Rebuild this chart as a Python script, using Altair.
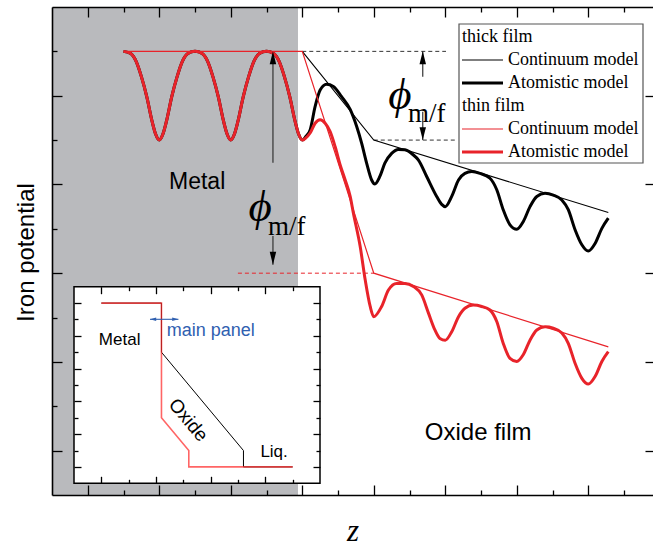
import altair as alt
import pandas as pd

# ---------------- data ----------------
# atomistic potential inside the metal (identical for both films)
metal_x = [2.0, 2.2, 2.35, 2.5, 2.65, 2.8, 2.9, 3.0, 3.1, 3.2, 3.35, 3.5, 3.65, 3.8, 4.0,
           4.2, 4.35, 4.5, 4.65, 4.8, 4.9, 5.0, 5.1, 5.2, 5.35, 5.5, 5.65, 5.8, 6.0,
           6.2, 6.35, 6.5, 6.65, 6.8, 6.9, 7.0]
metal_y = [10.0, 9.95, 9.78, 9.43, 8.98, 8.42, 8.13, 8.0, 8.13, 8.42, 8.98, 9.43, 9.78, 9.95, 10.0,
           9.95, 9.78, 9.43, 8.98, 8.42, 8.13, 8.0, 8.13, 8.42, 8.98, 9.43, 9.78, 9.95, 10.0,
           9.95, 9.78, 9.43, 8.98, 8.42, 8.13, 8.0]

# atomistic potential in the oxide, thick film
thick_ox_x = [7.1, 7.22, 7.36, 7.5, 7.68, 7.87, 8.1, 8.34, 8.52, 8.66,
              8.8, 8.94, 9.03, 9.17, 9.31, 9.5, 9.69, 9.87, 10.1, 10.25,
              10.48, 10.76, 10.9, 11.0, 11.18, 11.37, 11.55, 11.74, 11.97, 12.25,
              12.44, 12.62, 12.81, 13.0, 13.18, 13.37, 13.56, 13.79, 14.02, 14.26,
              14.44, 14.63, 14.82, 15.0, 15.19, 15.38, 15.56]
thick_ox_y = [8.08, 8.23, 8.76, 9.13, 9.26, 9.21, 8.98, 8.69, 8.31, 7.93,
              7.48, 7.1, 7.01, 7.18, 7.48, 7.7, 7.79, 7.78, 7.67, 7.55,
              7.18, 6.73, 6.55, 6.5, 6.73, 7.1, 7.25, 7.29, 7.25, 7.14,
              6.88, 6.43, 6.09, 5.99, 6.16, 6.5, 6.73, 6.8, 6.76, 6.65,
              6.43, 5.98, 5.64, 5.5, 5.67, 6.01, 6.24]

# atomistic potential in the oxide, thin film
thin_ox_x = [7.1, 7.22, 7.36, 7.5, 7.64, 7.78, 7.92, 8.06, 8.2, 8.34,
             8.43, 8.62, 8.76, 8.9, 9.0, 9.22, 9.41, 9.64, 9.87, 10.11,
             10.34, 10.53, 10.71, 10.85, 11.0, 11.18, 11.37, 11.55, 11.78, 12.02,
             12.25, 12.44, 12.62, 12.81, 13.0, 13.18, 13.37, 13.56, 13.79, 14.02,
             14.26, 14.44, 14.63, 14.82, 15.0, 15.19, 15.38, 15.56]
thin_ox_y = [8.05, 8.16, 8.38, 8.46, 8.38, 8.19, 7.85, 7.44, 7.1, 6.73,
             6.35, 5.6, 4.85, 4.25, 4.02, 4.25, 4.62, 4.77, 4.77, 4.7,
             4.51, 4.1, 3.72, 3.53, 3.49, 3.68, 4.02, 4.21, 4.28, 4.25,
             4.17, 3.91, 3.42, 3.08, 3.01, 3.16, 3.49, 3.72, 3.79, 3.76,
             3.65, 3.42, 2.97, 2.63, 2.5, 2.67, 3.01, 3.23]

# continuum models (the thick-film one is hidden under the thin-film one in the metal)
thick_cont_x = [7.0, 9.0, 15.56]
thick_cont_y = [10.0, 8.0, 6.37]
thin_cont_x = [2.0, 7.0, 9.0, 15.56]
thin_cont_y = [10.0, 10.0, 5.0, 3.34]

# metal (grey) region
metal_region_x = [0.0, 6.88]
metal_region_y = [0.0, 11.0]

# dashed guide lines
dash_x = [7.0, 9.0, 5.2]
dash_x2 = [11.02, 11.33, 9.0]
dash_y = [10.0, 8.0, 5.0]
dash_col = ["#333333", "#333333", "#e8232a"]

# phi_m/f arrows
arrow_x = [6.18, 6.18, 10.37, 10.37]
arrow_from = [7.49, 5.84, 9.43, 8.64]
arrow_to = [10.0, 5.19, 10.0, 8.0]
arrow_dir = ["up", "down", "up", "down"]

# labels in the main panel
main_labels = ["Metal", "Oxide film"]
main_label_x = [4.06, 11.92]
main_label_y = [7.06, 1.40]
main_label_size = [23, 24]

phi_x = [5.82, 9.73]
phi_y = [6.18, 8.70]
sub_x = [6.04, 9.96]
sub_y = [5.86, 8.41]

# legend
legend_labels = ["thick film", "Continuum model", "Atomistic model",
                 "thin film", "Continuum model", "Atomistic model"]
legend_is_header = [True, False, False, True, False, False]
legend_color = ["black", "black", "black", "#e8232a", "#e8232a", "#e8232a"]
legend_width = [0, 1.2, 3.0, 0, 1.2, 3.0]

# inset
inset_thick_x = [1.0, 3.2, 3.2, 6.2, 6.2, 8.0]
inset_thick_y = [11.0, 11.0, 8.0, 2.0, 1.0, 1.0]
inset_thin_x = [1.0, 3.2, 3.2, 3.2, 4.2, 4.2, 8.0]
inset_thin_y = [11.0, 11.0, 8.0, 4.0, 2.0, 1.0, 1.0]
inset_box_x = [0.0, 9.0]
inset_box_y = [0.0, 12.0]
inset_labels = ["Metal", "main panel", "Oxide", "Liq."]
inset_label_x = [1.67, 3.39, 4.18, 7.32]
inset_label_y = [8.77, 9.30, 3.86, 1.88]
inset_label_angle = [0, 0, 50, 0]
inset_label_align = ["center", "left", "center", "center"]
inset_label_color = ["black", "#3060b0", "black", "black"]
inset_label_size = [17, 18, 19, 17]
inset_arrow_x = [2.78, 3.82]
inset_arrow_y = [10.01, 10.01]

# ---------------- layout ----------------
W, H = 601, 488
RED = "#e8232a"
X_MAX = 16.81
xs = alt.Scale(domain=[0, X_MAX], nice=False, zero=False)
ys = alt.Scale(domain=[0, 11], nice=False, zero=False)
xs_in = alt.Scale(domain=[0, 9], range=[22, 268], nice=False, zero=False)
ys_in = alt.Scale(domain=[0, 12], range=[476.3, 279.7], nice=False, zero=False)

MAJ_MAIN = {"condition": {"test": "datum.value % 2 == 1", "value": 10}, "value": 5}
MAJ_IN = {"condition": {"test": "datum.value % 2 == 1", "value": 7}, "value": 4}


def tick_axis(orient, offset, values, size):
    return alt.Axis(orient=orient, offset=offset, values=values, labels=False,
                    domain=False, grid=False, ticks=True, tickSize=size,
                    tickColor="black", tickWidth=1.3, title=None, zindex=1)


def line_axis(orient, **kw):
    return alt.Axis(orient=orient, labels=False, ticks=False, grid=False,
                    domain=True, domainColor="black", domainWidth=1.6,
                    zindex=1, **kw)


UP = "M0,0L-0.4,1.6L0.4,1.6Z"
DOWN = "M0,0L-0.4,-1.6L0.4,-1.6Z"
LEFT = "M0,0L1.6,-0.45L1.6,0.45Z"
RIGHT = "M0,0L-1.6,-0.45L-1.6,0.45Z"

layers = []

# grey metal region, carries bottom/left axis lines and titles
grey_df = pd.DataFrame({"x": [metal_region_x[0]], "x2": [metal_region_x[1]],
                        "y": [metal_region_y[0]], "y2": [metal_region_y[1]]})
layers.append(
    alt.Chart(grey_df).mark_rect(color="#b9babd").encode(
        x=alt.X("x:Q", scale=xs, axis=line_axis(
            "bottom", title="z", titleFont="Liberation Serif", titleFontStyle="italic",
            titleFontWeight="normal", titleFontSize=31, titleColor="black",
            titleY=45, titleBaseline="alphabetic")),
        x2="x2:Q",
        y=alt.Y("y:Q", scale=ys, axis=line_axis(
            "left", title="Iron potential", titleFont="Liberation Sans",
            titleFontWeight="normal", titleFontSize=24, titleColor="black",
            titleAngle=-90, titleX=-19, titleY=245, titleBaseline="alphabetic",
            titleAlign="center")),
        y2="y2:Q",
    )
)

# dashed guides (top axis line, left inward ticks)
dash_df = pd.DataFrame({"x": dash_x, "x2": dash_x2, "y": dash_y, "c": dash_col})
layers.append(
    alt.Chart(dash_df).mark_rule(strokeWidth=1, strokeDash=[4, 3]).encode(
        x=alt.X("x:Q", scale=xs, axis=line_axis("top", title=None)),
        x2="x2:Q",
        y=alt.Y("y:Q", scale=ys, axis=tick_axis("right", -W, list(range(1, 11)), MAJ_MAIN)),
        color=alt.Color("c:N", scale=None),
    )
)

# arrow shafts (bottom inward ticks, right inward ticks)
arr_df = pd.DataFrame({"x": arrow_x, "y": arrow_from, "y2": arrow_to})
layers.append(
    alt.Chart(arr_df).mark_rule(strokeWidth=1.2, color="#333333").encode(
        x=alt.X("x:Q", scale=xs, axis=tick_axis("top", -H, list(range(1, 17)), MAJ_MAIN)),
        y=alt.Y("y:Q", scale=ys, axis=tick_axis("left", -W, [1, 3, 5, 7, 9], 8)),
        y2="y2:Q",
    )
)


def xy_df(xv, yv):
    return pd.DataFrame({"x": xv, "y": yv, "i": list(range(len(xv)))})


def curve(df, color, width, interp, xaxis=None, sx=xs, sy=ys, opacity=1.0):
    return alt.Chart(df).mark_line(color=color, strokeWidth=width, interpolate=interp,
                                   opacity=opacity).encode(
        x=alt.X("x:Q", scale=sx, axis=xaxis),
        y=alt.Y("y:Q", scale=sy, axis=None),
        order="i:Q",
    )


layers.append(curve(xy_df(thick_cont_x, thick_cont_y), "black", 1.1, "linear",
                    xaxis=tick_axis("bottom", -H, list(range(1, 17)), MAJ_MAIN)))
layers.append(curve(xy_df(metal_x + thick_ox_x, metal_y + thick_ox_y), "black", 3, "monotone"))
layers.append(curve(xy_df(thin_cont_x, thin_cont_y), RED, 1.2, "linear"))
layers.append(curve(xy_df(metal_x + thin_ox_x, metal_y + thin_ox_y), RED, 3, "monotone"))

# arrow heads
head_df = pd.DataFrame({"x": arrow_x, "y": arrow_to,
                        "shape": [UP if d == "up" else DOWN for d in arrow_dir]})
layers.append(
    alt.Chart(head_df).mark_point(filled=True, color="black", size=260, opacity=1,
                                  strokeWidth=0).encode(
        x=alt.X("x:Q", scale=xs, axis=None),
        y=alt.Y("y:Q", scale=ys, axis=None),
        shape=alt.Shape("shape:N", scale=None),
    )
)

# main labels
lab_df = pd.DataFrame({"t": main_labels, "x": main_label_x, "y": main_label_y,
                       "s": main_label_size})
layers.append(
    alt.Chart(lab_df).mark_text(font="Liberation Sans", color="black", align="center",
                                baseline="middle").encode(
        x=alt.X("x:Q", scale=xs, axis=None), y=alt.Y("y:Q", scale=ys, axis=None),
        text="t:N", size=alt.Size("s:Q", scale=None),
    )
)
phi_df = pd.DataFrame({"x": phi_x, "y": phi_y, "t": ["\u03d5", "\u03d5"]})
layers.append(
    alt.Chart(phi_df).mark_text(font="Liberation Serif", fontStyle="italic", fontSize=45,
                                color="black", align="center",
                                baseline="alphabetic").encode(
        x=alt.X("x:Q", scale=xs, axis=None), y=alt.Y("y:Q", scale=ys, axis=None),
        text="t:N",
    )
)
sub_df = pd.DataFrame({"x": sub_x, "y": sub_y, "t": ["m/f", "m/f"]})
layers.append(
    alt.Chart(sub_df).mark_text(font="Liberation Serif", fontSize=27, color="black",
                                align="left", baseline="alphabetic").encode(
        x=alt.X("x:Q", scale=xs, axis=None), y=alt.Y("y:Q", scale=ys, axis=None),
        text="t:N",
    )
)

# legend (pixel layout inside the plot area)
LX0, LX1, LY0, LY1 = 407, 591, 17, 156
ROW0, ROWSTEP = 30, 23
layers.append(
    alt.Chart(pd.DataFrame({"x": [LX0], "x2": [LX1], "y": [LY0], "y2": [LY1]}))
    .mark_rect(fill="white", stroke="#555555", strokeWidth=1.2).encode(
        x=alt.X("x:Q", scale=None, axis=None), x2="x2:Q",
        y=alt.Y("y:Q", scale=None, axis=None), y2="y2:Q",
    )
)
leg_df = pd.DataFrame({
    "t": legend_labels,
    "y": [ROW0 + ROWSTEP * k for k in range(len(legend_labels))],
    "tx": [LX0 + 3 if h else LX0 + 49 for h in legend_is_header],
    "c": legend_color, "w": legend_width, "h": legend_is_header,
    "sx": [LX0 + 3] * len(legend_labels), "sx2": [LX0 + 44] * len(legend_labels),
})
layers.append(
    alt.Chart(leg_df).transform_filter("!datum.h").mark_rule().encode(
        x=alt.X("sx:Q", scale=None, axis=None), x2="sx2:Q",
        y=alt.Y("y:Q", scale=None, axis=None),
        color=alt.Color("c:N", scale=None),
        strokeWidth=alt.StrokeWidth("w:Q", scale=None),
    )
)
layers.append(
    alt.Chart(leg_df).mark_text(font="Liberation Serif", fontSize=18, color="black",
                                align="left", baseline="middle").encode(
        x=alt.X("tx:Q", scale=None, axis=None),
        y=alt.Y("y:Q", scale=None, axis=None),
        text="t:N",
    )
)

# ---------------- inset ----------------
layers.append(
    alt.Chart(pd.DataFrame({"x": [inset_box_x[0]], "x2": [inset_box_x[1]],
                            "y": [inset_box_y[0]], "y2": [inset_box_y[1]]}))
    .mark_rect(fill="white", stroke="black", strokeWidth=1.5).encode(
        x=alt.X("x:Q", scale=xs_in, axis=tick_axis("top", -476.3, list(range(1, 9)), MAJ_IN)),
        x2="x2:Q",
        y=alt.Y("y:Q", scale=ys_in, axis=tick_axis("right", -579, list(range(1, 12)), MAJ_IN)),
        y2="y2:Q",
    )
)
layers.append(
    alt.Chart(xy_df(inset_thick_x, inset_thick_y)).mark_line(
        color="black", strokeWidth=1.0).encode(
        x=alt.X("x:Q", scale=xs_in, axis=tick_axis("bottom", -208.3, list(range(1, 9)), MAJ_IN)),
        y=alt.Y("y:Q", scale=ys_in, axis=tick_axis("left", -268, list(range(1, 12)), MAJ_IN)),
        order="i:Q",
    )
)
layers.append(curve(xy_df(inset_thin_x, inset_thin_y), "#ff2a2a", 1.6, "linear",
                    sx=xs_in, sy=ys_in, opacity=0.72))
ilab_df = pd.DataFrame({"t": inset_labels, "x": inset_label_x, "y": inset_label_y,
                        "a": inset_label_angle, "al": inset_label_align,
                        "c": inset_label_color, "s": inset_label_size})
for al in ["center", "left"]:
    layers.append(
        alt.Chart(ilab_df).transform_filter(f"datum.al == '{al}'").mark_text(
            font="Liberation Sans", align=al, baseline="middle").encode(
            x=alt.X("x:Q", scale=xs_in, axis=None), y=alt.Y("y:Q", scale=ys_in, axis=None),
            text="t:N", angle=alt.Angle("a:Q", scale=None),
            color=alt.Color("c:N", scale=None), size=alt.Size("s:Q", scale=None),
        )
    )
iar_df = pd.DataFrame({"x": [inset_arrow_x[0]], "x2": [inset_arrow_x[1]],
                       "y": [inset_arrow_y[0]]})
layers.append(
    alt.Chart(iar_df).mark_rule(color="#3060b0", strokeWidth=1.1).encode(
        x=alt.X("x:Q", scale=xs_in, axis=None), x2="x2:Q",
        y=alt.Y("y:Q", scale=ys_in, axis=None),
    )
)
ihead_df = pd.DataFrame({"x": inset_arrow_x, "y": inset_arrow_y, "shape": [LEFT, RIGHT]})
layers.append(
    alt.Chart(ihead_df).mark_point(filled=True, color="#3060b0", size=60, opacity=1,
                                   strokeWidth=0).encode(
        x=alt.X("x:Q", scale=xs_in, axis=None), y=alt.Y("y:Q", scale=ys_in, axis=None),
        shape=alt.Shape("shape:N", scale=None),
    )
)

chart = (
    alt.layer(*layers)
    .resolve_scale(x="independent", y="independent")
    .resolve_axis(x="independent", y="independent")
    .properties(width=W, height=H,
                padding={"left": 52, "top": 7, "right": 0, "bottom": 52},
                autosize=alt.AutoSizeParams(type="none"))
    .configure_view(strokeOpacity=0)
    .configure(background="white")
)

chart.save("out.html", embed_options={"renderer": "svg", "actions": False})
